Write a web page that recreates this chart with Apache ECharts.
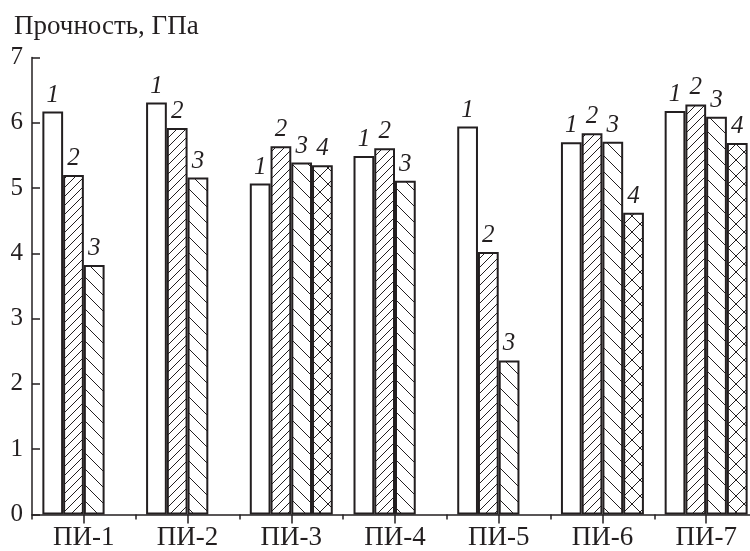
<!DOCTYPE html>
<html>
<head>
<meta charset="utf-8">
<script src="https://cdn.jsdelivr.net/npm/echarts@6/dist/echarts.min.js"></script>
<style>
html,body{margin:0;padding:0;background:#fff;}
#chart{width:750px;height:551px;}
</style>
</head>
<body>
<div id="chart"></div>
<script>
const categories = ['ПИ-1', 'ПИ-2', 'ПИ-3', 'ПИ-4', 'ПИ-5', 'ПИ-6', 'ПИ-7'];
const series1 = [6.17, 6.31, 5.07, 5.49, 5.94, 5.70, 6.18];
const series2 = [5.20, 5.92, 5.64, 5.61, 4.02, 5.84, 6.28];
const series3 = [3.82, 5.16, 5.39, 5.11, 2.36, 5.71, 6.09];
const series4 = [null, null, 5.35, null, null, 4.62, 5.69];
const seriesNames = ['1', '2', '3', '4'];
const yTicks = [0, 1, 2, 3, 4, 5, 6, 7];
const yTitle = 'Прочность, ГПа';

const INK = '#231f20';
const SERIF = '"Liberation Serif", "DejaVu Serif", serif';

function makePattern(size, kind) {
  const c = document.createElement('canvas');
  c.width = size; c.height = size;
  const g = c.getContext('2d');
  g.fillStyle = '#fff';
  g.fillRect(0, 0, size, size);
  g.strokeStyle = INK;
  g.lineWidth = 1;
  const s = size;
  function fwd() { // "/"
    g.beginPath();
    g.moveTo(-s, s); g.lineTo(s, -s);
    g.moveTo(0, 2 * s); g.lineTo(2 * s, 0);
    g.moveTo(0, s); g.lineTo(s, 0);
    g.stroke();
  }
  function back() { // "\"
    g.beginPath();
    g.moveTo(-s, 0); g.lineTo(s, 2 * s);
    g.moveTo(0, -s); g.lineTo(2 * s, s);
    g.moveTo(0, 0); g.lineTo(s, s);
    g.stroke();
  }
  if (kind === 'fwd') fwd();
  if (kind === 'back') back();
  if (kind === 'cross') { fwd(); back(); }
  return { image: c, repeat: 'repeat' };
}

const fills = ['#ffffff', makePattern(9, 'fwd'), makePattern(16, 'back'), makePattern(16, 'cross')];
const dataSets = [series1, series2, series3, series4];

const chart = echarts.init(document.getElementById('chart'), null, { renderer: 'canvas' });

const series = dataSets.map((d, i) => ({
  name: seriesNames[i],
  type: 'bar',
  data: d,
  barGap: '0%',
  barCategoryGap: '20%',
  xAxisIndex: 0,
  itemStyle: { color: fills[i], borderColor: INK, borderWidth: 2 },
  label: {
    show: true,
    position: 'top',
    distance: 4,
    formatter: seriesNames[i],
    fontFamily: SERIF,
    fontStyle: 'italic',
    fontSize: 25,
    color: INK
  },
  emphasis: { disabled: true },
  animation: false
}));

chart.setOption({
  backgroundColor: '#fff',
  animation: false,
  title: {
    text: yTitle,
    left: 9,
    top: 8,
    textStyle: { fontFamily: SERIF, fontWeight: 'normal', fontSize: 27, color: INK }
  },
  grid: { left: 32, width: 726, top: 57.4, bottom: 36.5, containLabel: false, outerBoundsMode: 'none' },
  xAxis: [
    {
      type: 'category',
      data: categories,
      position: 'bottom',
      axisLine: { show: true, lineStyle: { color: INK, width: 1.5 } },
      axisTick: { show: true, alignWithLabel: true, length: 9, lineStyle: { color: INK, width: 1.5 } },
      axisLabel: { fontFamily: SERIF, fontSize: 27, color: INK, margin: 10 },
      splitLine: { show: false }
    },
    {
      type: 'category',
      data: categories,
      position: 'bottom',
      axisLine: { show: false },
      axisTick: { show: true, alignWithLabel: false, length: 5, lineStyle: { color: INK, width: 1.5 } },
      axisLabel: { show: false },
      splitLine: { show: false }
    }
  ],
  yAxis: {
    type: 'value',
    min: yTicks[0],
    max: yTicks[yTicks.length - 1],
    interval: 1,
    axisLine: { show: true, lineStyle: { color: INK, width: 1.5 } },
    axisTick: { show: true, inside: true, length: 8, lineStyle: { color: INK, width: 1.5 } },
    axisLabel: { fontFamily: SERIF, fontSize: 25, color: INK, margin: 9 },
    splitLine: { show: false }
  },
  series: series
});
</script>
</body>
</html>
